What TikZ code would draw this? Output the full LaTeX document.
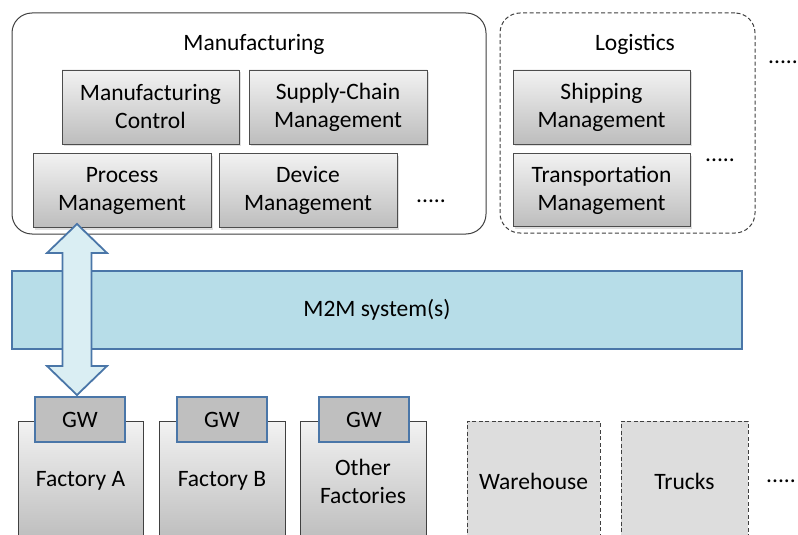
\documentclass[tikz,border=0pt]{standalone}
\usepackage{fontspec}
\setmainfont{Carlito}
\usepackage{xcolor}
\usepackage{tikz}
\usetikzlibrary{shadows}
\definecolor{groupline}{HTML}{404040}
\definecolor{boxline}{HTML}{4D4D4D}
\definecolor{boxtop}{HTML}{F2F2F2}
\definecolor{boxbot}{HTML}{BDBDBD}
\definecolor{blueline}{HTML}{4A76A8}
\definecolor{m2mfill}{HTML}{B7DDE8}
\definecolor{arrowfill}{HTML}{DAEEF3}
\definecolor{gwgray}{HTML}{BFBFBF}
\definecolor{sitegray}{HTML}{DDDDDD}

\begin{document}
\begin{tikzpicture}[x=1pt,y=-1pt,font=\fontsize{23.5}{28}\selectfont,
        group/.style={draw=groupline,line width=1pt,fill=white,rounded corners=20pt,inner sep=0pt},
        dashline/.style={dash pattern=on 4pt off 2.5pt},
        appbox/.style={draw=boxline,line width=0.9pt,top color=boxtop,bottom color=boxbot,minimum width=177pt,minimum height=74pt,align=center,inner sep=0pt,drop shadow={opacity=0.25,shadow xshift=2pt,shadow yshift=-2pt}},
        gw/.style={draw=blueline,line width=1.8pt,fill=gwgray,minimum width=90pt,minimum height=45pt,inner sep=0pt},
        site/.style={draw=groupline,line width=0.9pt,top color=boxtop,bottom color=boxbot,minimum height=120pt,align=center,inner sep=0pt},
        othersite/.style={draw=groupline,dashline,line width=0.9pt,fill=sitegray,minimum height=120pt,inner sep=0pt},
        dblarrow/.style={draw=blueline,line width=1.8pt,fill=arrowfill,line join=miter}]
        \useasboundingbox (0,0) rectangle (798,535);

        \node[group,minimum width=474pt,minimum height=221pt] (mfg) at (249,123.5) {};
        \node[group,dashline,minimum width=255pt,minimum height=220pt] (log) at (627.5,123) {};
        \node (mfgtitle) at (254,44) {Manufacturing};
        \node (logtitle) at (635,44) {Logistics};

        \node[appbox] (mctrl) at (150.5,107) {Manufacturing\\Control};
        \node[appbox,minimum width=178pt] (scm) at (338,107) {Supply-Chain\\Management};
        \node[appbox,minimum width=178pt] (proc) at (122,190.5) {Process\\Management};
        \node[appbox,minimum width=178pt] (dev) at (308,190.5) {Device\\Management};
        \node (mfgdots) at (431,201) {.....};

        \node[appbox] (ship) at (601.5,107) {Shipping\\Management};
        \node[appbox,minimum height=73pt] (trans) at (601.5,190) {Transportation\\Management};
        \node (logdots) at (720,160) {.....};
        \node[anchor=west,inner sep=0pt] (moredots) at (768,62) {.....};

        \node[draw=blueline,line width=1.8pt,fill=m2mfill,minimum width=730pt,minimum height=78pt] (m2m) at (377,310) {M2M system(s)};

        \coordinate (arrtop) at (77,224);
        \coordinate (arrbot) at (77,395);
        \draw[dblarrow] (arrtop) -- ++(30,29) -- ++(-15.5,0) -- ++(0,113) -- ++(15.5,0) -- (arrbot)
            -- ++(-30,-29) -- ++(15.5,0) -- ++(0,-113) -- ++(-15.5,0) -- cycle;

        \node[site,minimum width=125pt] (facta) at (80.5,481) {Factory A};
        \node[site,minimum width=126pt] (factb) at (222,481) {Factory B};
        \node[site,minimum width=126pt] (factc) at (363,481) {Other\\Factories};
        \node[gw] (gwa) at (80,419.5) {GW};
        \node[gw] (gwb) at (222,419.5) {GW};
        \node[gw] (gwc) at (364,419.5) {GW};

        \node[othersite,minimum width=133pt] (wh) at (533.5,481) {Warehouse};
        \node[othersite,minimum width=127pt] (trucks) at (684.5,481) {Trucks};
        \node[anchor=west,inner sep=0pt] (sitedots) at (766,481) {.....};
    \end{tikzpicture}
\end{document}
